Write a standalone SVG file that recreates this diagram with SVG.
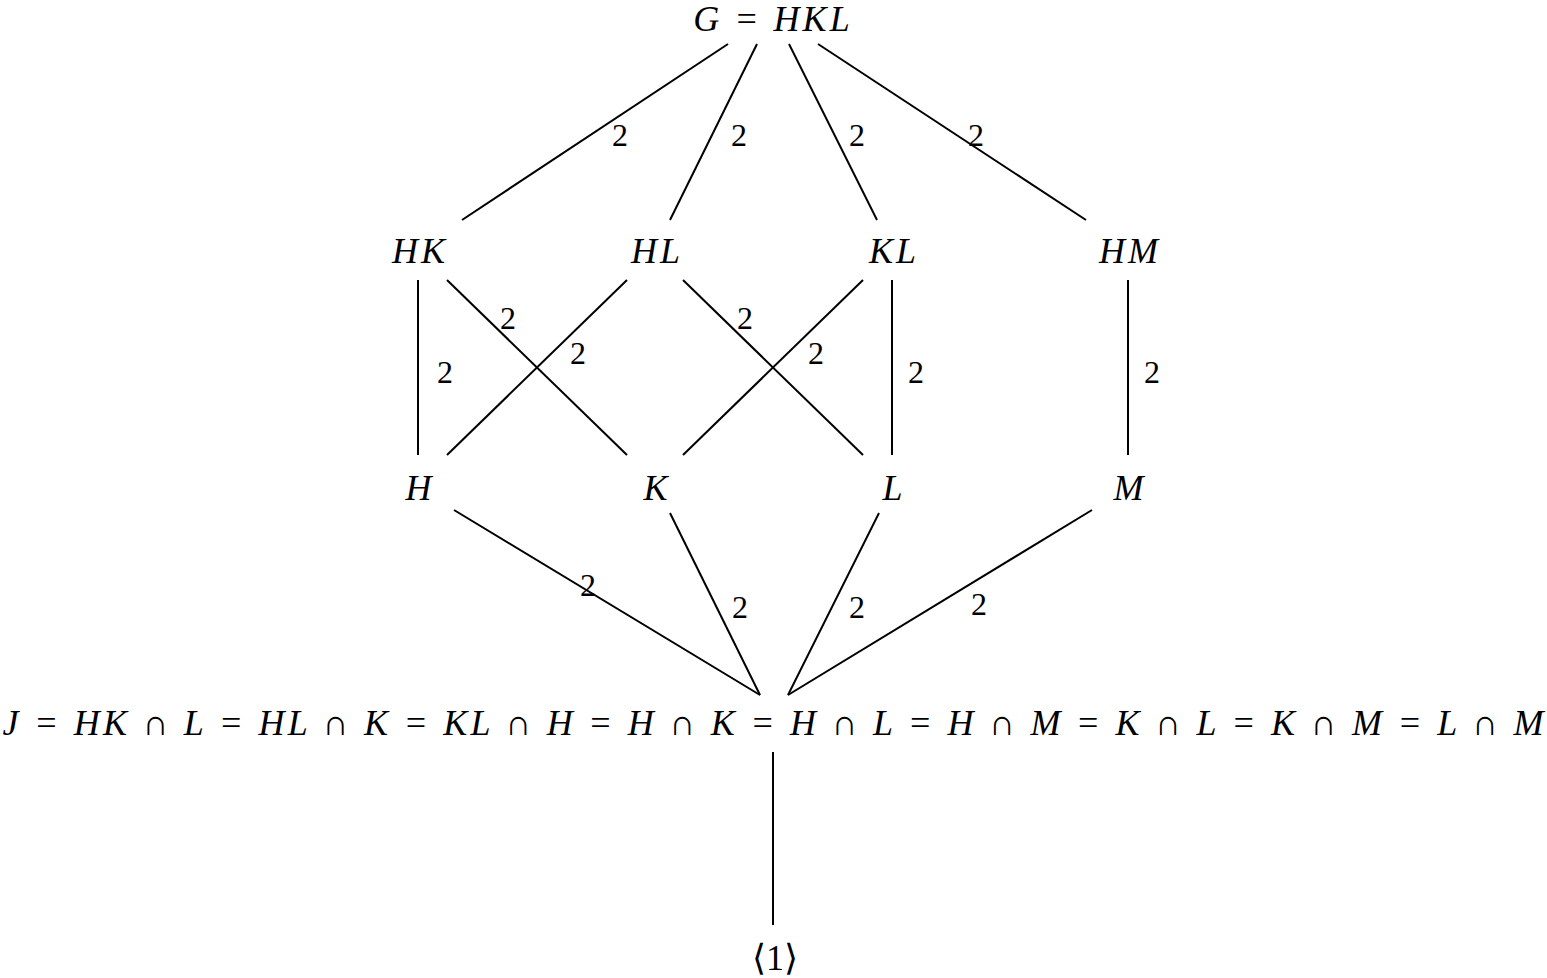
<svg xmlns="http://www.w3.org/2000/svg" width="1547" height="978" viewBox="0 0 1547 978">
<style>
.n{font-family:"Liberation Serif",serif;font-style:italic;font-size:36px;text-anchor:middle;fill:#000;letter-spacing:3px}
.l{font-family:"Liberation Serif",serif;font-size:32px;text-anchor:middle;fill:#000}
line{stroke:#000;stroke-width:2}
</style>
<rect width="1547" height="978" fill="#fff"/>
<g id="connectors">
<line x1="728" y1="44" x2="462" y2="220"/><line x1="757" y1="44" x2="670" y2="220"/>
<line x1="789" y1="44" x2="877" y2="220"/><line x1="818" y1="44" x2="1086" y2="220"/>
<line x1="418" y1="280" x2="418" y2="455"/><line x1="447" y1="280" x2="627" y2="455"/>
<line x1="627" y1="280" x2="447" y2="455"/><line x1="683" y1="280" x2="863" y2="455"/>
<line x1="863" y1="280" x2="683" y2="455"/><line x1="892" y1="280" x2="892" y2="455"/>
<line x1="1128" y1="280" x2="1128" y2="455"/>
<line x1="454" y1="510" x2="760" y2="695"/><line x1="670" y1="513" x2="760" y2="695"/>
<line x1="879" y1="513" x2="788" y2="695"/><line x1="1092" y1="510" x2="788" y2="695"/>
<line x1="773" y1="752" x2="773" y2="925"/>
<g>
<text class="l" x="620" y="146">2</text><text class="l" x="739" y="146">2</text><text class="l" x="857" y="146">2</text><text class="l" x="976" y="146">2</text>
<text class="l" x="445" y="383">2</text><text class="l" x="508" y="329">2</text><text class="l" x="578" y="364">2</text><text class="l" x="745" y="329">2</text><text class="l" x="816" y="364">2</text><text class="l" x="916" y="383">2</text><text class="l" x="1152" y="383">2</text>
<text class="l" x="588" y="596">2</text><text class="l" x="740" y="618">2</text><text class="l" x="857" y="618">2</text><text class="l" x="979" y="615">2</text>
</g>
</g>
<g id="G"><text class="n" x="773" y="31">G = HKL</text></g>
<g id="HK"><text class="n" x="420" y="263">HK</text></g>
<g id="HL"><text class="n" x="657" y="263">HL</text></g>
<g id="KL"><text class="n" x="894" y="263">KL</text></g>
<g id="HM"><text class="n" x="1130" y="263">HM</text></g>
<g id="H"><text class="n" x="420" y="500">H</text></g>
<g id="K"><text class="n" x="657" y="500">K</text></g>
<g id="L"><text class="n" x="894" y="500">L</text></g>
<g id="M"><text class="n" x="1130" y="500">M</text></g>
<g id="J"><text class="n" x="773" y="735" style="letter-spacing:0" textLength="1541" lengthAdjust="spacing">J = HK ∩ L = HL ∩ K = KL ∩ H = H ∩ K = H ∩ L = H ∩ M = K ∩ L = K ∩ M = L ∩ M</text></g>
<g id="one"><text class="n" x="775" y="970" style="font-style:normal;letter-spacing:0">⟨1⟩</text></g>
</svg>
